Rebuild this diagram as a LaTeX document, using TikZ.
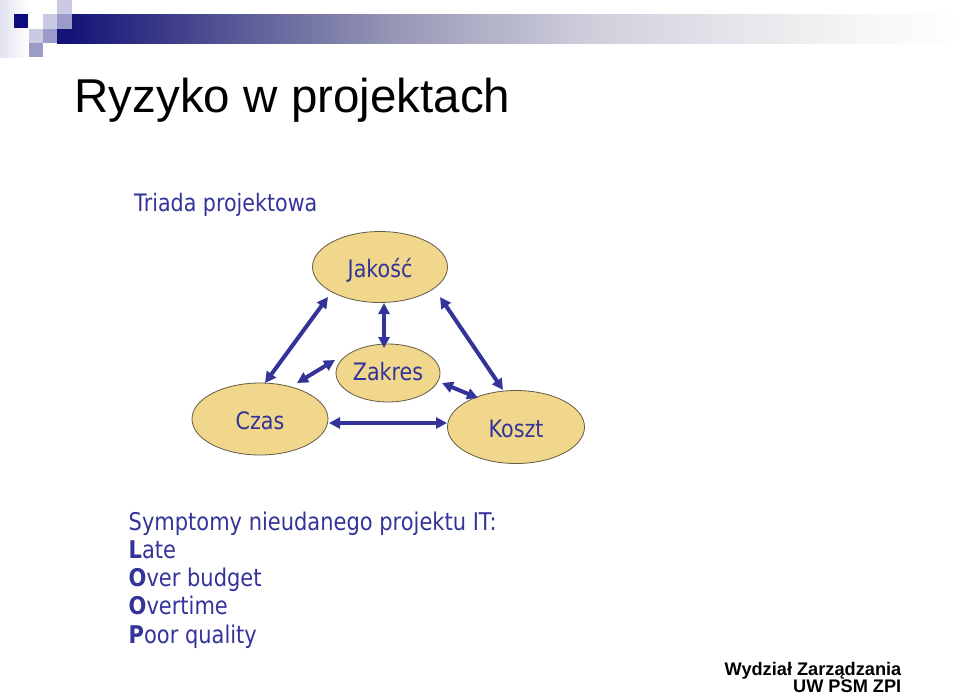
\documentclass[tikz,border=0pt]{standalone}
\usepackage{fontspec}
\setmainfont{DejaVu Sans}
\newfontfamily\tahf[FakeStretch=0.86]{DejaVu Sans}
\newfontfamily\arialf{Liberation Sans}
\usetikzlibrary{arrows.meta,shapes.geometric}
\definecolor{navyt}{RGB}{51,51,153}
\definecolor{arrowc}{RGB}{51,51,153}
\definecolor{ellfill}{RGB}{240,215,140}
\definecolor{elldraw}{RGB}{100,90,70}
\definecolor{sqdark}{RGB}{12,12,128}
\definecolor{sqlight}{RGB}{202,202,229}
\definecolor{sqmed}{RGB}{155,155,202}
\definecolor{colfade}{RGB}{226,226,240}
\pgfdeclarehorizontalshading{barshade}{100bp}{rgb(0bp)=(0.08,0.08,0.47); rgb(25.8bp)=(0.08,0.08,0.47); rgb(35.7bp)=(0.37,0.37,0.6); rgb(44bp)=(0.6,0.6,0.72); rgb(55.1bp)=(0.82,0.82,0.87); rgb(68.9bp)=(0.96,0.96,0.96); rgb(75bp)=(1,1,1); rgb(100bp)=(1,1,1)}
\tikzset{
  ell/.style={ellipse, draw=elldraw, line width=0.8pt, fill=ellfill, inner sep=0pt,
    text=navyt, font=\tahf\fontsize{24}{28}\selectfont, text height=20pt, text depth=0pt},
  arr/.style={draw=arrowc, line width=4pt, {Triangle[length=11pt,width=11pt]}-{Triangle[length=11pt,width=11pt]}},
  body/.style={anchor=base west, inner sep=0pt, text=navyt, font=\tahf\fontsize{24.4}{28}\selectfont},
  foot/.style={anchor=base east, inner sep=0pt, text=black, font=\arialf\bfseries\fontsize{18.2}{20}\selectfont}
}
\begin{document}
\begin{tikzpicture}[x=1pt,y=-1pt]
\useasboundingbox (0,0) rectangle (960,696);
\fill[white] (0,0) rectangle (960,696);
% header decoration
\shade[left color=colfade, right color=white] (0,0) rectangle (29,57);
\shade[shading=barshade] (57,14) rectangle (960,43);
\fill[sqlight] (57,0) rectangle (72,14);
\fill[sqdark] (14,14) rectangle (28,28);
\fill[sqlight] (43,14) rectangle (57,29);
\fill[sqmed] (57,14) rectangle (72,29);
\fill[sqlight] (29,29) rectangle (43,43);
\fill[sqmed] (43,29) rectangle (57,43);
\fill[sqmed] (29,43) rectangle (43,57);
% title
\node[anchor=base west, inner sep=0pt, font=\arialf\fontsize{47.5}{57}\selectfont] (title) at (74.5,112.5) {Ryzyko w projektach};
\node[body, font=\tahf\fontsize{24}{28}\selectfont] (triada) at (134,211.5) {Triada projektowa};
% ellipses
\node[ell, minimum width=135pt, minimum height=71pt] (jak) at (380,267) {Jakość};
\node[ell, minimum width=104pt, minimum height=58pt, text height=14pt] (zak) at (388,373) {Zakres};
\node[ell, minimum width=136pt, minimum height=72pt] (czas) at (260,419) {Czas};
\node[ell, minimum width=137pt, minimum height=73pt] (kosz) at (516,427) {Koszt};
% arrows
\draw[arr] ([shift={(5,-36)}]czas.center) -- ([shift={(-52,30)}]jak.center);
\draw[arr] ([shift={(4,36)}]jak.center) -- ([shift={(-4,-25)}]zak.center);
\draw[arr] ([shift={(60,30)}]jak.center) -- ([shift={(-13,-37)}]kosz.center);
\draw[arr] ([shift={(37,-36)}]czas.center) -- ([shift={(-53,-13)}]zak.center);
\draw[arr] ([shift={(54,10)}]zak.center) -- ([shift={(-38,-29)}]kosz.center);
\draw[arr] ([shift={(69,4)}]czas.center) -- ([shift={(-69,-4)}]kosz.center);
% symptoms
\node[body] (s0) at (128.5,530.5) {Symptomy nieudanego projektu IT:};
\node[body] (s1) at (128.5,558.5) {\textbf{L}ate};
\node[body] (s2) at (128.5,586.5) {\textbf{O}ver budget};
\node[body] (s3) at (128.5,614.8) {\textbf{O}vertime};
\node[body] (s4) at (128.5,643) {\textbf{P}oor quality};
% footer
\node[foot] (wz) at (901.5,675.8) {Wydział Zarządzania};
\node[foot] (uw) at (901.5,692.8) {UW PSM ZPI};
\end{tikzpicture}
\end{document}
